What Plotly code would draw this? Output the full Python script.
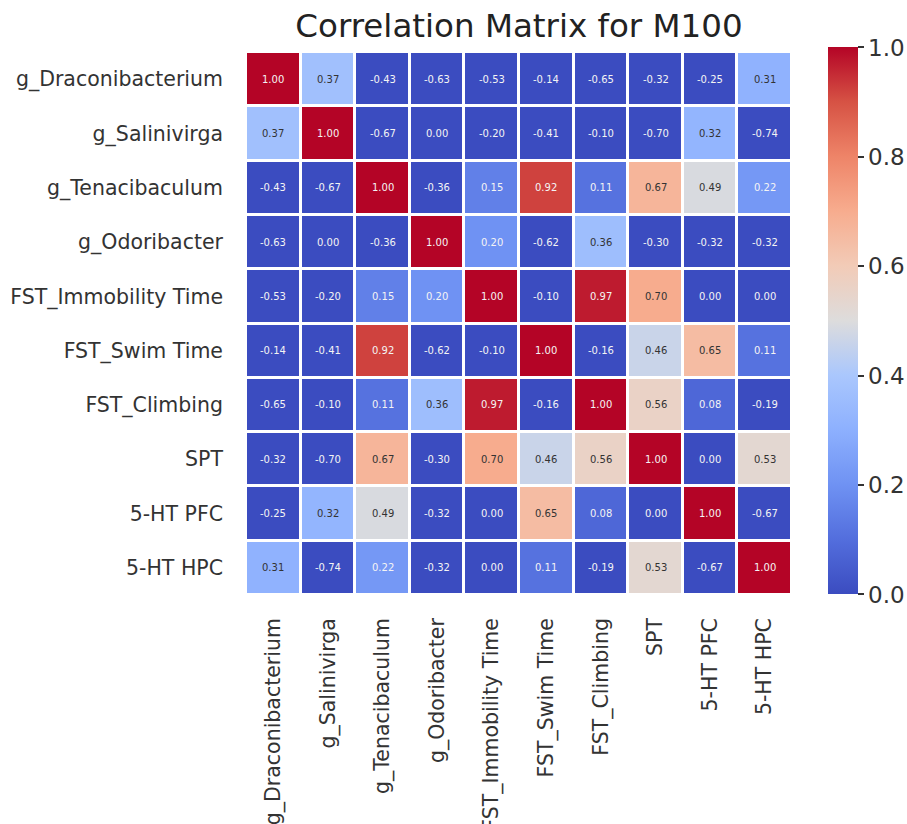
import plotly.graph_objects as go

# Variables in the correlation matrix (row/column order)
labels = [
    "g_Draconibacterium", "g_Salinivirga", "g_Tenacibaculum", "g_Odoribacter",
    "FST_Immobility Time", "FST_Swim Time", "FST_Climbing", "SPT",
    "5-HT PFC", "5-HT HPC",
]

# Pairwise correlations, one list per row
r_draconibacterium = [1.00, 0.37, -0.43, -0.63, -0.53, -0.14, -0.65, -0.32, -0.25, 0.31]
r_salinivirga = [0.37, 1.00, -0.67, 0.00, -0.20, -0.41, -0.10, -0.70, 0.32, -0.74]
r_tenacibaculum = [-0.43, -0.67, 1.00, -0.36, 0.15, 0.92, 0.11, 0.67, 0.49, 0.22]
r_odoribacter = [-0.63, 0.00, -0.36, 1.00, 0.20, -0.62, 0.36, -0.30, -0.32, -0.32]
r_immobility = [-0.53, -0.20, 0.15, 0.20, 1.00, -0.10, 0.97, 0.70, 0.00, 0.00]
r_swim = [-0.14, -0.41, 0.92, -0.62, -0.10, 1.00, -0.16, 0.46, 0.65, 0.11]
r_climbing = [-0.65, -0.10, 0.11, 0.36, 0.97, -0.16, 1.00, 0.56, 0.08, -0.19]
r_spt = [-0.32, -0.70, 0.67, -0.30, 0.70, 0.46, 0.56, 1.00, 0.00, 0.53]
r_pfc = [-0.25, 0.32, 0.49, -0.32, 0.00, 0.65, 0.08, 0.00, 1.00, -0.67]
r_hpc = [0.31, -0.74, 0.22, -0.32, 0.00, 0.11, -0.19, 0.53, -0.67, 1.00]

colorbar_ticks = [0.0, 0.2, 0.4, 0.6, 0.8, 1.0]

z = [r_draconibacterium, r_salinivirga, r_tenacibaculum, r_odoribacter,
     r_immobility, r_swim, r_climbing, r_spt, r_pfc, r_hpc]

# Diverging blue-white-red scale (coolwarm)
coolwarm = [
    [0.0, "#3b4cc0"], [0.1, "#536edd"], [0.2, "#6f92f3"], [0.3, "#8db0fe"],
    [0.4, "#aac7fd"], [0.5, "#dddcdc"], [0.6, "#f2cbb7"], [0.7, "#f7ac8e"],
    [0.8, "#ee8468"], [0.9, "#d65244"], [1.0, "#b40426"],
]

W, H = 907, 824
fig = go.Figure(go.Heatmap(
    z=z, x=labels, y=labels,
    zmin=0, zmax=1, colorscale=coolwarm,
    xgap=3, ygap=3,
    colorbar=dict(
        thickness=30,
        xref="container", yref="container",
        x=828 / W, xanchor="left", xpad=0,
        y=1 - 72 / H, yanchor="top", ypad=0,
        len=547, lenmode="pixels",
        outlinewidth=0,
        tickvals=colorbar_ticks, ticktext=[f"{t:.1f}" for t in colorbar_ticks],
        ticks="outside", ticklen=6, tickwidth=1.5, tickcolor="#333333",
        tickfont=dict(family="DejaVu Sans", size=23, color="#333333"),
    ),
    hoverinfo="skip",
))

# Value labels inside each cell
for i, row in enumerate(z):
    for j, v in enumerate(row):
        c = min(max(v, 0), 1)
        dark_text = 0.28 <= c <= 0.8
        fig.add_annotation(
            x=labels[j], y=labels[i], text=f"{v:.2f}", showarrow=False,
            font=dict(family="DejaVu Sans", size=10,
                      color="#333333" if dark_text else "#f4f4f4"),
        )

fig.update_layout(
    width=W, height=H,
    margin=dict(l=246, r=115, t=52, b=229),
    paper_bgcolor="white", plot_bgcolor="white",
    title=dict(
        text="Correlation Matrix for M100",
        font=dict(family="DejaVu Sans", size=32.5, color="#222222"),
        x=0.5, xref="paper", xanchor="center",
        y=1 - 26 / H, yanchor="middle",
    ),
    xaxis=dict(
        tickangle=-90, showgrid=False, zeroline=False, automargin=False,
        tickfont=dict(family="DejaVu Sans", size=20.5, color="#333333"),
        ticklabelstandoff=18, ticks="", showline=False,
    ),
    yaxis=dict(
        autorange="reversed", showgrid=False, zeroline=False, automargin=False,
        tickfont=dict(family="DejaVu Sans", size=20.5, color="#333333"),
        ticklabelstandoff=22, ticks="", showline=False,
    ),
)

fig.write_html("out.html")
